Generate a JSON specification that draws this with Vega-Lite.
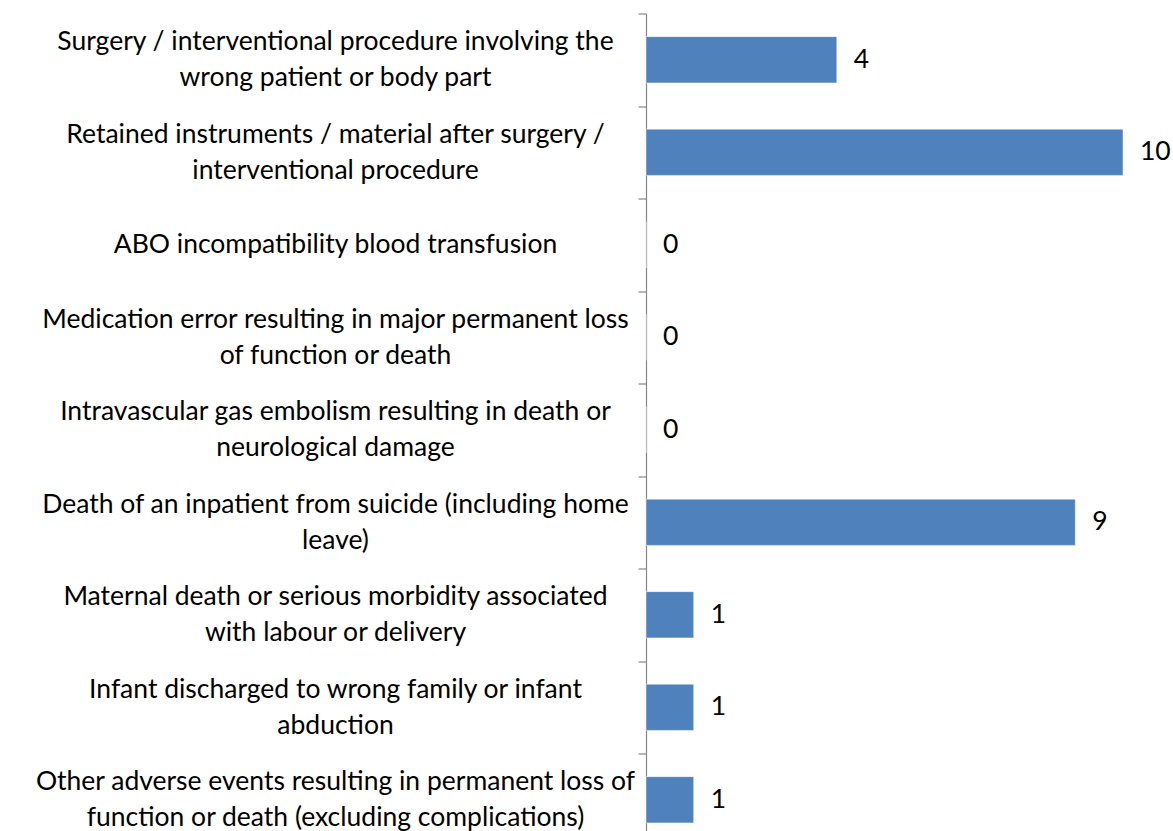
{
  "$schema": "https://vega.github.io/schema/vega-lite/v6.json",
  "width": 477,
  "height": 832.5,
  "autosize": {"type": "none"},
  "padding": {"left": 646, "top": 13.5, "right": 50, "bottom": 0},
  "background": "white",
  "config": {"view": {"stroke": null}, "font": "Lato"},
  "data": {
    "values": [
      {"event": "Surgery / interventional procedure involving the|wrong patient or body part", "count": 4},
      {"event": "Retained instruments / material after surgery /|interventional procedure", "count": 10},
      {"event": "ABO incompatibility blood transfusion", "count": 0},
      {"event": "Medication error resulting in major permanent loss|of function or death", "count": 0},
      {"event": "Intravascular gas embolism resulting in death or|neurological damage", "count": 0},
      {"event": "Death of an inpatient from suicide (including home|leave)", "count": 9},
      {"event": "Maternal death or serious morbidity associated|with labour or delivery", "count": 1},
      {"event": "Infant discharged to wrong family or infant|abduction", "count": 1},
      {"event": "Other adverse events resulting in permanent loss of|function or death (excluding complications)", "count": 1}
    ]
  },
  "encoding": {
    "y": {
      "field": "event",
      "type": "nominal",
      "sort": null,
      "scale": {"paddingInner": 0, "paddingOuter": 0},
      "axis": {
        "title": null,
        "labelExpr": "isString(datum.value) ? split(datum.value, '|') : ''",
        "labelFont": "Lato",
        "labelFontSize": 26.5,
        "labelColor": "#000000",
        "labelLineHeight": 36,
        "labelLimit": 0,
        "labelAlign": "center",
        "labelBaseline": "middle",
        "labelPadding": 303,
        "labelOffset": {
          "condition": {"test": "isString(datum.value) && indexof(datum.value, '|') >= 0", "value": -18},
          "value": 0
        },
        "tickBand": "extent",
        "tickSize": 8,
        "tickColor": "#868686",
        "domainColor": "#868686",
        "domainWidth": 1.2,
        "tickWidth": 1.2,
        "grid": false
      }
    },
    "x": {
      "field": "count",
      "type": "quantitative",
      "scale": {"domain": [0, 10], "nice": false},
      "axis": null
    }
  },
  "layer": [
    {"mark": {"type": "bar", "color": "#4F81BD", "height": {"band": 0.5}, "stroke": "#FFFFFF", "strokeWidth": 0.8, "strokeOpacity": 0.6}},
    {
      "mark": {"type": "text", "align": "left", "baseline": "middle", "dx": 17, "fontSize": 26.5, "font": "Lato", "color": "#000000"},
      "encoding": {"text": {"field": "count", "type": "quantitative"}}
    }
  ]
}
